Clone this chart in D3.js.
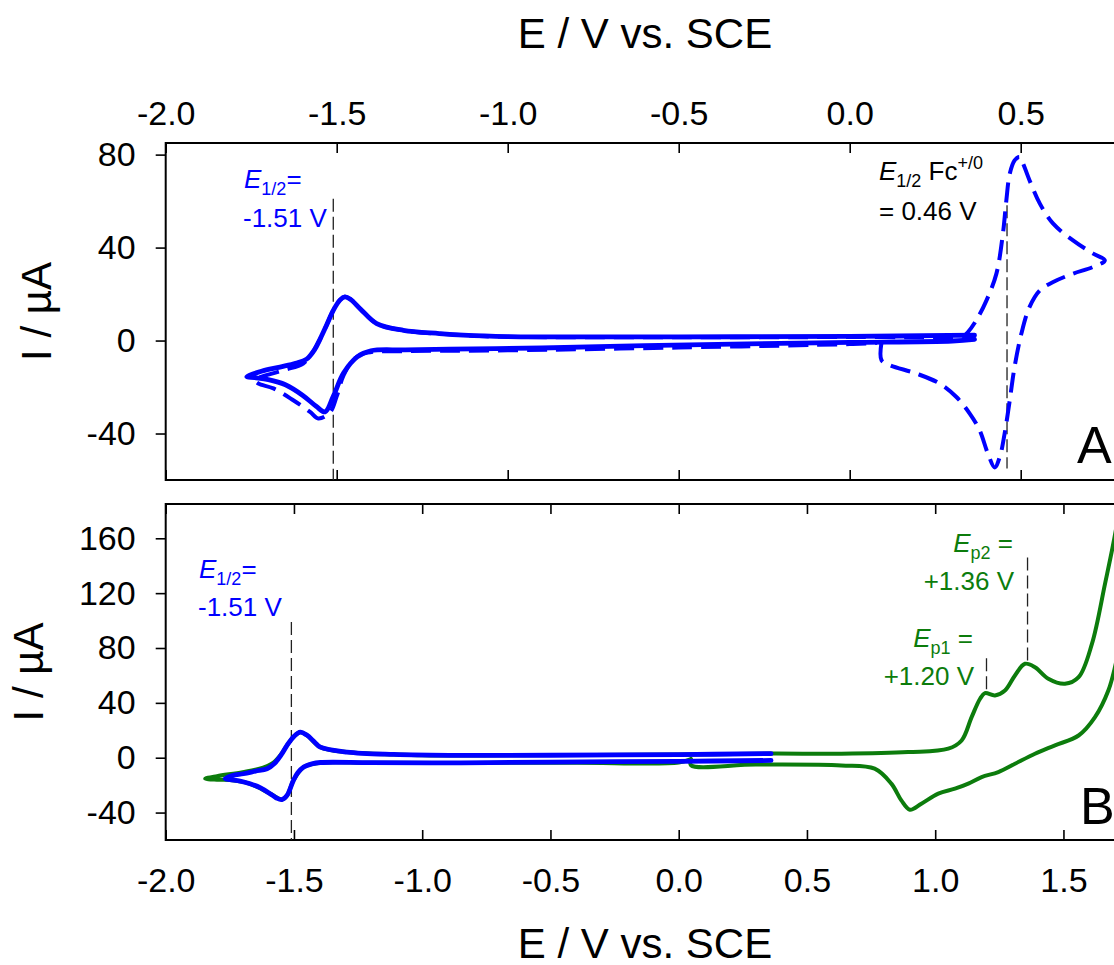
<!DOCTYPE html>
<html>
<head>
<meta charset="utf-8">
<script src="https://cdn.jsdelivr.net/npm/d3@7"></script>
<style>
  html, body { margin: 0; padding: 0; background: #fff; }
  svg { display: block; font-family: "Liberation Sans", Arial, Helvetica, sans-serif; }
</style>
</head>
<body>
<svg id="chart" width="1114" height="965"></svg>
<script>
// ---- Panel A: sample CV (solid) and sample + ferrocene (dashed) ----
const aSolidE = [0.365, 0.30, 0.0, -0.3, -0.6, -0.9, -1.1, -1.3, -1.40, -1.44, -1.48, -1.51, -1.534, -1.56, -1.60, -1.65, -1.70, -1.74, -1.763,
                 -1.72, -1.666, -1.62, -1.588, -1.565, -1.549, -1.53, -1.51, -1.49, -1.476, -1.46, -1.43, -1.383, -1.305, -1.20, -1.13, -1.0, -0.5, 0.0, 0.365];
const aSolidI = [0.5, -0.2, -0.8, -1.4, -2.2, -3.2, -3.6, -4.0, -4.4, -7.0, -14.0, -24.0, -30.7, -28.3, -23.5, -19.0, -16.8, -16.0, -15.6,
                 -13.2, -11.4, -9.8, -8.0, -4.0, 0.5, 6.5, 13.0, 17.5, 18.8, 17.8, 13.5, 7.3, 4.4, 3.0, 2.3, 1.7, 1.6, 1.8, 2.3];

const aDashE = [0.093, 0.093, 0.117, 0.195, 0.263, 0.312, 0.351, 0.380, 0.404, 0.424, 0.439, 0.453, 0.468, 0.482, 0.502, 0.526, 0.556, 0.595, 0.653, 0.712, 0.746,
                0.712, 0.653, 0.595, 0.556, 0.526, 0.507, 0.497, 0.482, 0.468, 0.458, 0.448, 0.429, 0.400, 0.370, 0.346, 0.332, 0.30, 0.0, -0.5, -1.0,
                -1.13, -1.305, -1.383, -1.43, -1.46, -1.476, -1.49, -1.51, -1.53, -1.549, -1.57, -1.598, -1.656, -1.739,
                -1.729, -1.685, -1.627, -1.578, -1.554, -1.52, -1.50, -1.48, -1.45, -1.41, -1.3, -1.0, -0.5, 0.0, 0.08];
const aDashI = [-0.8, -8.5, -10.6, -14.2, -18.5, -24.3, -31.4, -38.6, -48.6, -54.6, -50, -40, -25.7, -11.4, 3, 14.5, 21.6, 25.2, 28.8, 31.7, 34.5,
                37.4, 43.1, 50.3, 58.9, 68.9, 76.1, 79, 77.5, 71.8, 60.3, 46, 28.8, 17.3, 8.7, 3.7, 1.8, 1.5, 1.5, 1.4, 1.6,
                2.3, 4.4, 7.3, 13.5, 17.8, 18.8, 17.5, 13, 6.5, 0.5, -5, -9.9, -12.8, -17,
                -18.5, -20.6, -25.7, -30.7, -33.5, -31, -24, -15, -8, -5.2, -4.6, -4.2, -3.0, -1.5, -1.0];

// ---- Panel B: sample CV (blue) and wide-range CV (green) ----
const bBlueE = [0.36, 0.0, -0.5, -0.85, -1.2, -1.397, -1.43, -1.462, -1.485, -1.502, -1.527, -1.547, -1.57, -1.593, -1.63, -1.671, -1.71, -1.749, -1.768,
                -1.74, -1.697, -1.65, -1.605, -1.575, -1.55, -1.527, -1.50, -1.475, -1.45, -1.42, -1.397, -1.293, -1.111, -0.85, -0.5, 0.0, 0.36];
const bBlueI = [-2.0, -2.6, -3.2, -3.7, -3.6, -3.5, -4.5, -6.8, -11, -16.5, -27.5, -30.6, -29.2, -26.2, -22, -19, -17, -16, -15.3,
                -13, -11.7, -9.8, -8, -4, 2, 9, 15.5, 18.7, 16.5, 11.5, 7.7, 4.1, 2.4, 1.7, 1.8, 2.3, 3.0];

const bGreenE = [0.048, 0.048, 0.3, 0.634, 0.764, 0.829, 0.868, 0.901, 0.946, 1.012, 1.077, 1.129, 1.181, 1.246, 1.311, 1.389, 1.467, 1.559, 1.623, 1.675, 1.704, 1.75,
                 1.75, 1.704, 1.662, 1.611, 1.559, 1.506, 1.441, 1.389, 1.35, 1.311, 1.272, 1.233, 1.194, 1.175, 1.142, 1.103, 1.051, 0.894, 0.634, 0.36, 0.0, -0.5, -1.0,
                 -1.293, -1.397, -1.45, -1.475, -1.50, -1.527, -1.55, -1.58, -1.62, -1.70, -1.80, -1.846,
                 -1.80, -1.749, -1.671, -1.593, -1.547, -1.527, -1.502, -1.462, -1.397, -1.2, -0.8, -0.4, 0.0, 0.048];
const bGreenI = [-1.0, -5.5, -5.0, -5.6, -8, -18.9, -31.1, -37.9, -33.5, -26.2, -22.6, -18.9, -14.1, -10.5, -4.4, 2.9, 9, 16.2, 29.6, 49, 68.5, 110,
                 220, 165.6, 126.8, 83, 58.7, 53.9, 57.6, 66, 68.5, 60, 49, 45.4, 47.1, 43, 29.6, 12.6, 6.6, 4.1, 2.9, 3.0, 2.4, 1.9, 1.8,
                 4.1, 7.7, 16.5, 18.5, 15.5, 9, 2.5, -3.5, -7.2, -10.5, -13.4, -15.3,
                 -16.0, -16.2, -19, -26.2, -30.4, -27.5, -16.5, -6.8, -3.7, -3.7, -3.8, -3.6, -3.5, -1.0];

// ---- axis ticks ----
const aTicksX = [-2.0, -1.5, -1.0, -0.5, 0.0, 0.5, 1.0];
const aTicksY = [-40, 0, 40, 80];
const bTicksX = [-2.0, -1.5, -1.0, -0.5, 0.0, 0.5, 1.0, 1.5, 2.0];
const bTicksY = [-40, 0, 40, 80, 120, 160];

// ---- potential markers: value, upper current, lower current ----
const aMarkE = [-1.51, 0.46];
const aMarkTop = [61, 66];
const aMarkBot = [-60, -55];
const bMarkE = [-1.51, 1.20, 1.36];
const bMarkTop = [99, 72.5, 146];
const bMarkBot = [-60, 47.6, 68.7];

const BLUE = "#0000ff";
const GREEN = "#0c7c0c";
const FONT = "'Liberation Sans', Arial, Helvetica, sans-serif";

const svg = d3.select("#chart");

const left = 165.7, plotW = 1026;
const xA = d3.scaleLinear().domain([-2.0, 1.0]).range([left, left + plotW]);
const yA = d3.scaleLinear().domain([-60, 85]).range([480, 143]);
const xB = d3.scaleLinear().domain([-2.0, 2.0]).range([left, left + plotW]);
const yB = d3.scaleLinear().domain([-60, 185]).range([840, 504]);

const fmtX = d => d.toFixed(1);
const fmtY = d => String(d);

function styleAxis(g, size) {
  g.select(".domain").remove();
  g.selectAll(".tick line").attr("stroke", "#000").attr("stroke-width", 1.6);
  g.selectAll(".tick text").attr("fill", "#000").attr("font-size", size).attr("font-family", FONT);
}

// Panel A axes
svg.append("g").attr("transform", `translate(0,${yA.range()[1]})`)
  .call(d3.axisTop(xA).tickValues(aTicksX).tickFormat(fmtX).tickSize(-10).tickPadding(18))
  .call(g => styleAxis(g, 34));
svg.append("g").attr("transform", `translate(0,${yA.range()[0]})`)
  .call(d3.axisBottom(xA).tickValues(aTicksX).tickFormat("").tickSize(-10))
  .call(g => styleAxis(g, 34));
svg.append("g").attr("transform", `translate(${left},0)`)
  .call(d3.axisLeft(yA).tickValues(aTicksY).tickFormat(fmtY).tickSize(10).tickPadding(20))
  .call(g => styleAxis(g, 34));

// Panel B axes
svg.append("g").attr("transform", `translate(0,${yB.range()[0]})`)
  .call(d3.axisBottom(xB).tickValues(bTicksX).tickFormat(fmtX).tickSize(-10).tickPadding(28))
  .call(g => styleAxis(g, 34));
svg.append("g").attr("transform", `translate(0,${yB.range()[1]})`)
  .call(d3.axisTop(xB).tickValues(bTicksX).tickFormat("").tickSize(-10))
  .call(g => styleAxis(g, 34));
svg.append("g").attr("transform", `translate(${left},0)`)
  .call(d3.axisLeft(yB).tickValues(bTicksY).tickFormat(fmtY).tickSize(10).tickPadding(20))
  .call(g => styleAxis(g, 34));

// frames
[[xA, yA], [xB, yB]].forEach(([x, y]) => {
  svg.append("rect")
    .attr("x", x.range()[0]).attr("y", y.range()[1])
    .attr("width", x.range()[1] - x.range()[0]).attr("height", y.range()[0] - y.range()[1])
    .attr("fill", "none").attr("stroke", "#000").attr("stroke-width", 2);
});

function zip(E, I) { return E.map((e, i) => [e, I[i]]); }
function drawCurve(x, y, E, I, color, width, dash) {
  const line = d3.line().x(d => x(d[0])).y(d => y(d[1])).curve(d3.curveCatmullRom.alpha(0.5));
  svg.append("path").datum(zip(E, I))
    .attr("d", line).attr("fill", "none").attr("stroke", color)
    .attr("stroke-width", width).attr("stroke-linejoin", "round")
    .attr("stroke-linecap", dash ? "butt" : "round")
    .attr("stroke-dasharray", dash || null);
}

// markers (drawn beneath curves)
function drawMarkers(x, y, E, top, bot) {
  E.forEach((e, i) => {
    svg.append("line")
      .attr("x1", x(e)).attr("x2", x(e))
      .attr("y1", y(top[i])).attr("y2", y(bot[i]))
      .attr("stroke", "#222").attr("stroke-width", 1.3).attr("stroke-dasharray", "13,5");
  });
}
drawMarkers(xA, yA, aMarkE, aMarkTop, aMarkBot);
drawMarkers(xB, yB, bMarkE, bMarkTop, bMarkBot);

drawCurve(xA, yA, aDashE, aDashI, BLUE, 4, "20,9");
drawCurve(xA, yA, aSolidE, aSolidI, BLUE, 4.8, null);
drawCurve(xB, yB, bGreenE, bGreenI, GREEN, 4, null);
drawCurve(xB, yB, bBlueE, bBlueI, BLUE, 4.8, null);

// axis titles
svg.append("text").attr("x", 645).attr("y", 48).attr("text-anchor", "middle")
  .attr("font-size", 42).attr("fill", "#000").text("E / V vs. SCE");
svg.append("text").attr("x", 645).attr("y", 958).attr("text-anchor", "middle")
  .attr("font-size", 42).attr("fill", "#000").text("E / V vs. SCE");
svg.append("text").attr("transform", `translate(51,${(yA.range()[0] + yA.range()[1]) / 2}) rotate(-90)`)
  .attr("text-anchor", "middle").attr("font-size", 42).attr("fill", "#000").text("I / µA");
svg.append("text").attr("transform", `translate(43,${(yB.range()[0] + yB.range()[1]) / 2}) rotate(-90)`)
  .attr("text-anchor", "middle").attr("font-size", 42).attr("fill", "#000").text("I / µA");

// panel letters
svg.append("text").attr("x", 1077).attr("y", 463).attr("font-size", 52).attr("fill", "#000").text("A");
svg.append("text").attr("x", 1080).attr("y", 824).attr("font-size", 52).attr("fill", "#000").text("B");

// annotations
function subLabel(x, y, anchor, color, sub, tail, sup) {
  const t = svg.append("text").attr("x", x).attr("y", y).attr("text-anchor", anchor)
    .attr("font-size", 26).attr("fill", color);
  t.append("tspan").attr("font-style", "italic").text("E");
  t.append("tspan").attr("font-size", 18).attr("dy", 7).text(sub);
  t.append("tspan").attr("dy", -7).text(tail);
  if (sup) t.append("tspan").attr("font-size", 18).attr("dy", -11).text(sup);
  return t;
}
function plainLabel(x, y, anchor, color, str) {
  svg.append("text").attr("x", x).attr("y", y).attr("text-anchor", anchor)
    .attr("font-size", 26).attr("fill", color).text(str);
}

subLabel(244, 188, "start", BLUE, "1/2", "=");
plainLabel(243, 227, "start", BLUE, "-1.51 V");
subLabel(879, 180, "start", "#000", "1/2", " Fc", "+/0");
plainLabel(879, 220, "start", "#000", "= 0.46 V");

subLabel(199, 578, "start", BLUE, "1/2", "=");
plainLabel(198, 616, "start", BLUE, "-1.51 V");
subLabel(1013, 552, "end", GREEN, "p2", " =");
plainLabel(1014, 590, "end", GREEN, "+1.36 V");
subLabel(973, 647, "end", GREEN, "p1", " =");
plainLabel(974, 685, "end", GREEN, "+1.20 V");
</script>
</body>
</html>
